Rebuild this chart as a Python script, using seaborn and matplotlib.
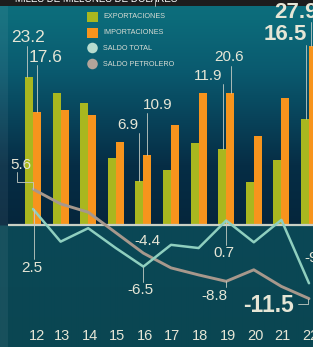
import numpy as np
import matplotlib
matplotlib.use("Agg")
import matplotlib.pyplot as plt
import matplotlib.colors as mcolors
import seaborn as sns
import pandas as pd

# ---------------- data ----------------
years = ["12", "13", "14", "15", "16", "17", "18", "19", "20", "21", "22"]
exportaciones = [23.2, 20.6, 19.1, 10.5, 6.9, 8.6, 12.8, 11.9, 6.7, 10.2, 16.5]
importaciones = [17.6, 18.0, 17.2, 13.0, 10.9, 15.6, 20.6, 20.6, 13.9, 19.8, 27.9]
saldo_total = [2.5, -2.6, -0.5, -3.6, -6.5, -3.1, -3.6, 0.7, -2.7, 0.8, -9.1]
saldo_petrolero = [5.6, 3.3, 2.0, -1.2, -4.4, -6.7, -7.8, -8.8, -7.0, -9.6, -11.5]
legend_labels = ["EXPORTACIONES", "IMPORTACIONES", "SALDO TOTAL", "SALDO PETROLERO"]

C_EXP = "#a9b71f"
C_IMP = "#f7941d"
C_TOT = "#8fcfbf"
C_PET = "#a7988c"
C_TXT = "#e6e6d6"

W, H = 313, 347
sns.set_theme(style="white")
plt.rcParams["font.family"] = ["Liberation Sans", "DejaVu Sans"]

fig = plt.figure(figsize=(W / 100, H / 100), dpi=100)
ax = fig.add_axes([0, 0, 1, 1])

# pixel <-> data mapping
X0, DX = 33.0, 27.6
Y0, DY = 225.0, 6.4
def xd(px):
    return (px - X0) / DX
def yd(py):
    return (Y0 - py) / DY

xlim = (xd(0), xd(W))
ylim = (yd(H), yd(0))

# ---------------- background ----------------
stops = [(0, "#0d6f7d"), (20, "#0c6b7a"), (70, "#0a5a6f"), (120, "#084259"),
         (165, "#062d45"), (224, "#05263c"), (226, "#0a4856"), (347, "#0a4652")]
rows = []
for py in range(H):
    for (a, ca), (b, cb) in zip(stops[:-1], stops[1:]):
        if a <= py <= b:
            t = 0 if b == a else (py - a) / (b - a)
            c1 = np.array(mcolors.to_rgb(ca)); c2 = np.array(mcolors.to_rgb(cb))
            rows.append(c1 + (c2 - c1) * t)
            break
img = np.array(rows)[:, None, :].repeat(2, axis=1)
ax.imshow(img, extent=(xlim[0], xlim[1], ylim[0], ylim[1]), aspect="auto", zorder=0,
          interpolation="bilinear")
# left lighter strip
ax.axvspan(xd(0), xd(8), color="white", alpha=0.06, lw=0, zorder=0.5)
# dark header band
ax.axhspan(yd(6), yd(0), color="#1d1d1d", lw=0, zorder=6)
ax.plot([xd(155), xd(155)], [yd(6), yd(0)], color="#bbbbbb", lw=0.6, zorder=7)
ax.text(xd(15), yd(4.5), "MILES DE MILLONES DE DÓLARES", color="white", fontsize=7,
        family=["Liberation Sans Narrow", "Liberation Sans", "DejaVu Sans"],
        ha="left", va="bottom", zorder=7)

# ---------------- bars ----------------
df = pd.DataFrame({
    "año": years * 2,
    "valor": exportaciones + importaciones,
    "serie": [legend_labels[0]] * len(years) + [legend_labels[1]] * len(years),
})
sns.barplot(data=df, x="año", y="valor", hue="serie", palette=[C_EXP, C_IMP],
            width=0.58, gap=0, dodge=True, saturation=1, errorbar=None,
            linewidth=0, edgecolor="none", legend=False, ax=ax, zorder=2)

# baseline
ax.plot([xd(8), xd(W)], [0, 0], color="#c9d0c4", lw=1.6, zorder=3, solid_capstyle="butt")

# ---------------- lines ----------------
xi = np.arange(len(years))
sns.lineplot(x=xi, y=saldo_petrolero, color=C_PET, lw=2.1, sort=False, ax=ax, zorder=4)
sns.lineplot(x=xi, y=saldo_total, color=C_TOT, lw=1.8, sort=False, ax=ax, zorder=4.5)

# ---------------- labels ----------------
LC = "#c4ccc4"
def leader(pts):
    ax.plot([xd(p[0]) for p in pts], [p[1] for p in pts], color=LC, lw=0.6, zorder=5)

def lab(txt, px, py, size, bold=False, ha="center"):
    ax.text(xd(px), yd(py), txt, color=C_TXT, fontsize=size, ha=ha, va="center",
            fontweight="bold" if bold else "normal", zorder=8)

lab("23.2", 28, 38, 12.5)
leader([(27, yd(46)), (27, exportaciones[0])])
lab("17.6", 46, 57, 12.5)
leader([(37, yd(65)), (37, importaciones[0])])
lab("5.6", 21, 165, 11)
leader([(17, yd(172)), (17, yd(182)), (33, yd(182)), (33, saldo_petrolero[0])])
lab("2.5", 32, 268, 11)
leader([(34, saldo_total[0]), (34, yd(259))])
lab("6.9", 128, 125, 11)
leader([(139, yd(133)), (139, exportaciones[4])])
lab("10.9", 158, 105, 11)
leader([(147, yd(113)), (147, importaciones[4])])
lab("-4.4", 147, 241, 11)
lab("-6.5", 140, 290, 11)
leader([(143, saldo_total[4]), (143, yd(282))])
lab("11.9", 208, 76, 11)
leader([(223, yd(84)), (223, exportaciones[7])])
lab("20.6", 229, 57, 11)
leader([(231, yd(66)), (231, importaciones[7])])
lab("0.7", 224, 253, 11)
leader([(226, saldo_total[7]), (226, yd(245))])
lab("-8.8", 214, 296, 11)
leader([(226, saldo_petrolero[7]), (226, yd(287))])
lab("-11.5", 268, 306, 16.5, bold=True)
leader([(298, yd(304)), (308, yd(304)), (308, saldo_petrolero[10])])
lab("16.5", 285, 35, 16, bold=True)
leader([(306, yd(45)), (306, exportaciones[10])])
lab("27.9", 274, 12, 16, bold=True, ha="left")
leader([(311, yd(22)), (311, importaciones[10])])
lab("-9.1", 304, 258, 11, ha="left")

# ---------------- legend ----------------
LF = ["Liberation Sans Narrow", "Liberation Sans", "DejaVu Sans"]
leg_y = [17, 33, 48, 64]
ax.scatter([xd(92.5)] * 2, [yd(leg_y[0]), yd(leg_y[1])], marker="s", s=62,
           c=[C_EXP, C_IMP], linewidths=0, zorder=8)
ax.scatter([xd(92.5)] * 2, [yd(leg_y[2]), yd(leg_y[3])], marker="o", s=58,
           c=["#b7dccf", "#b3a49a"], linewidths=0, zorder=8)
for t, yy in zip(legend_labels, leg_y):
    ax.text(xd(103), yd(yy), t, color="#d8dcd4", fontsize=5.2, family=LF,
            ha="left", va="center", zorder=8)

# ---------------- axes ----------------
ax.set_xlim(*xlim)
ax.set_ylim(*ylim)
ax.set_xticks([])
ax.set_yticks([])
ax.set_xlabel("")
ax.set_ylabel("")
for s in ax.spines.values():
    s.set_visible(False)
for i, y in enumerate(years):
    ax.text(i + (xd(37) if i == 0 else 0.05), yd(336), y, color=C_TXT,
            fontsize=10.5, family=LF, ha="center", va="center", zorder=8)

fig.savefig("out.png", dpi=100)
